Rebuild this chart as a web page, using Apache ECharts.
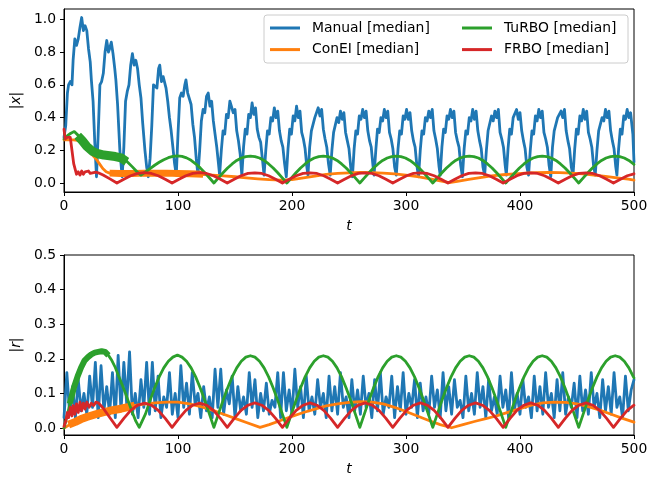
<!DOCTYPE html>
<html>
<head>
<meta charset="utf-8">
<script src="https://cdn.jsdelivr.net/npm/echarts@6/dist/echarts.min.js"></script>
<style>
  html, body { margin: 0; padding: 0; background: #fff; }
  #main { width: 663px; height: 477px; }
</style>
</head>
<body>
<div id="main"></div>
<script>
// ---- data ----
var xTicks = [0, 100, 200, 300, 400, 500];
var yTicksTop = [0, 0.2, 0.4, 0.6, 0.8, 1.0];
var yTicksBottom = [0, 0.1, 0.2, 0.3, 0.4, 0.5];

// Manual, |x| : [t, value]
var manualX = [
  [0,0.28],[1.5,0.35],[3,0.55],[4,0.6],[5.5,0.62],[7,0.6],[8,0.75],[9.5,0.88],[11,0.84],[12.5,0.88],[14,0.95],[15.5,1.01],[17,0.93],[18.5,0.96],[20,0.93],[21.5,0.82],[23,0.74],[24,0.63],[25.5,0.5],[27,0.25],[28.5,0.04],
  [30,0.3],[31.5,0.6],[33,0.62],[34.5,0.67],[36,0.8],[37.5,0.87],[39,0.8],[40,0.82],[41.5,0.86],[43,0.79],[44.5,0.7],[45.5,0.63],[47,0.48],[49,0.2],[51,0.04],
  [52.5,0.22],[54,0.5],[55.5,0.56],[57,0.6],[58.5,0.72],[60,0.79],[61.5,0.72],[63,0.75],[64.5,0.7],[66,0.6],[67.5,0.52],[69,0.37],[71,0.2],[72.5,0.1],[74,0.04],
  [75.5,0.15],[77,0.35],[78.5,0.6],[80,0.61],[81.5,0.58],[83,0.7],[84,0.72],[85.5,0.62],[87,0.65],[88,0.66],[89.5,0.58],[91,0.5],[92.5,0.4],[94,0.32],[95.5,0.22],[97,0.12],[98.5,0.05],
  [100,0.3],[101.5,0.52],[103,0.55],[104.5,0.53],[106,0.6],[107,0.63],[108.5,0.55],[110,0.56],[111.5,0.48],[113,0.36],[114.5,0.28],[116,0.15],[117.5,0.05],
  [119,0.2],[120.5,0.38],[122,0.45],[123.5,0.43],[125,0.53],[126.5,0.55],[128,0.47],[129.5,0.5],[131,0.38],[132.5,0.3],[134,0.22],[135.5,0.12],[136.5,0.05],
  [138,0.2],[139.5,0.32],[141,0.3],[142.5,0.42],[144,0.4],[145.5,0.5],[147,0.51],[148.5,0.43],[150,0.45],[151.5,0.32],[153,0.26],[154.5,0.18],[156,0.05],
  [157.5,0.22],[159,0.33],[160.5,0.3],[162,0.42],[163.5,0.4],[165,0.49],[166.5,0.42],[168,0.46],[169.5,0.33],[171,0.28],[172.5,0.25],[174,0.15],[175.5,0.05],
  [177,0.2],[178.5,0.32],[180,0.3],[181.5,0.4],[183,0.38],[184.5,0.46],[186,0.4],[187.5,0.44],[189,0.32],[190.5,0.26],[192,0.22],[193.5,0.12],[195,0.04],
  [196.5,0.21],[198,0.33],[199.5,0.3],[201,0.41],[202.5,0.38],[204,0.47],[205.5,0.4],[207,0.44],[208.5,0.31],[210,0.27],[211.5,0.21],[213,0.1],[214,0.05],
  [215.5,0.22],[217,0.32],[218.5,0.31],[220,0.4],[221.5,0.39],[223,0.46],[224.5,0.41],[226,0.45],[227.5,0.33],[229,0.27],[230.5,0.22],[232,0.12],[233.5,0.05],
  [235,0.2],[236.5,0.31],[238,0.3],[239.5,0.4],[241,0.37],[242.5,0.44],[244,0.39],[245.5,0.43],[247,0.31],[248.5,0.26],[250,0.21],[251.5,0.1],[253,0.04],
  [254.5,0.21],[256,0.32],[257.5,0.3],[259,0.41],[260.5,0.39],[262,0.45],[263.5,0.4],[265,0.44],[266.5,0.32],[268,0.26],[269.5,0.22],[271,0.11],[272,0.05],
  [273.5,0.2],[275,0.33],[276.5,0.31],[278,0.4],[279.5,0.38],[281,0.45],[282.5,0.4],[284,0.44],[285.5,0.31],[287,0.27],[288.5,0.21],[290,0.1],[291.5,0.05],
  [293,0.21],[294.5,0.32],[296,0.3],[297.5,0.41],[299,0.39],[300.5,0.45],[302,0.39],[303.5,0.43],[305,0.32],[306.5,0.26],[308,0.22],[309.5,0.11],[311,0.04],
  [312.5,0.2],[314,0.32],[315.5,0.3],[317,0.4],[318.5,0.38],[320,0.44],[321.5,0.4],[323,0.45],[324.5,0.32],[326,0.27],[327.5,0.21],[329,0.1],[330,0.05],
  [331.5,0.22],[333,0.33],[334.5,0.31],[336,0.41],[337.5,0.39],[339,0.45],[340.5,0.4],[342,0.44],[343.5,0.31],[345,0.26],[346.5,0.22],[348,0.11],[349.5,0.04],
  [351,0.21],[352.5,0.32],[354,0.3],[355.5,0.4],[357,0.38],[358.5,0.45],[360,0.39],[361.5,0.44],[363,0.32],[364.5,0.26],[366,0.21],[367.5,0.1],[369,0.05],
  [370.5,0.2],[372,0.32],[373.5,0.31],[375,0.41],[376.5,0.38],[378,0.44],[379.5,0.4],[381,0.45],[382.5,0.31],[384,0.27],[385.5,0.22],[387,0.11],[388,0.05],
  [389.5,0.21],[391,0.33],[392.5,0.3],[394,0.4],[395.5,0.39],[397,0.45],[398.5,0.39],[400,0.43],[401.5,0.32],[403,0.26],[404.5,0.21],[406,0.1],[407.5,0.05],
  [409,0.2],[410.5,0.32],[412,0.3],[413.5,0.41],[415,0.38],[416.5,0.45],[418,0.4],[419.5,0.44],[421,0.31],[422.5,0.27],[424,0.22],[425.5,0.11],[427,0.04],
  [428.5,0.22],[430,0.32],[431.5,0.31],[433,0.4],[434.5,0.39],[436,0.44],[437.5,0.4],[439,0.45],[440.5,0.32],[442,0.26],[443.5,0.21],[445,0.1],[446.5,0.05],
  [448,0.21],[449.5,0.33],[451,0.3],[452.5,0.41],[454,0.38],[455.5,0.45],[457,0.39],[458.5,0.44],[460,0.31],[461.5,0.27],[463,0.22],[464.5,0.11],[466,0.05],
  [467.5,0.2],[469,0.32],[470.5,0.31],[472,0.4],[473.5,0.38],[475,0.45],[476.5,0.4],[478,0.44],[479.5,0.32],[481,0.26],[482.5,0.21],[484,0.1],[485,0.05],
  [486.5,0.21],[488,0.33],[489.5,0.3],[491,0.41],[492.5,0.39],[494,0.45],[495.5,0.4],[497,0.43],[499,0.3],[500,0.13]
];

// Manual, |r| : one value every 2.5 time units, t = 0 .. 500
var manualRStep = 2.5;
var manualR = [
  0.03,0.16,0.04,0.12,0.03,0.14,0.05,0.1,0.04,0.15,
  0.06,0.19,0.03,0.18,0.05,0.12,0.04,0.16,0.03,0.21,
  0.05,0.19,0.07,0.22,0.04,0.1,0.03,0.14,0.06,0.19,
  0.04,0.19,0.05,0.15,0.03,0.09,0.06,0.16,0.04,0.1,
  0.03,0.18,0.06,0.13,0.04,0.16,0.07,0.1,0.03,0.12,
  0.05,0.09,0.03,0.17,0.06,0.17,0.04,0.11,0.07,0.15,
  0.03,0.12,0.05,0.09,0.04,0.16,0.06,0.14,0.03,0.1,
  0.05,0.13,0.04,0.08,0.06,0.16,0.03,0.16,0.05,0.11,
  0.04,0.17,0.06,0.12,0.03,0.15,0.05,0.09,0.04,0.14,
  0.06,0.1,0.03,0.15,0.05,0.12,0.04,0.16,0.06,0.09,
  0.03,0.14,0.05,0.11,0.04,0.15,0.06,0.1,0.03,0.14,
  0.05,0.16,0.04,0.09,0.06,0.15,0.03,0.12,0.05,0.16,
  0.04,0.1,0.06,0.14,0.03,0.13,0.05,0.09,0.04,0.15,
  0.06,0.11,0.03,0.16,0.05,0.12,0.04,0.14,0.06,0.08,
  0.03,0.15,0.05,0.1,0.04,0.16,0.06,0.12,0.03,0.14,
  0.05,0.09,0.04,0.15,0.06,0.11,0.03,0.16,0.05,0.1,
  0.04,0.14,0.06,0.09,0.03,0.15,0.05,0.12,0.04,0.16,
  0.06,0.1,0.03,0.14,0.05,0.16,0.04,0.09,0.06,0.13,
  0.03,0.15,0.05,0.11,0.04,0.16,0.06,0.1,0.03,0.14,
  0.05,0.12,0.04,0.16,0.06,0.09,0.03,0.15,0.05,0.11,
  0.14
];

// ConEI
var conX = [
  [0,0.265],[4,0.265],[8,0.265],[12,0.262],[16,0.25],[20,0.22],[24,0.18],[28,0.15],[31,0.12],[34,0.09],[37,0.07],[40,0.062],
  [50,0.06],[60,0.06],[70,0.062],[80,0.062],[90,0.062],[100,0.06],[110,0.058],[120,0.055],[130,0.05],[140,0.045],[150,0.04],
  [160,0.033],[170,0.027],[180,0.022],[190,0.019],[200,0.023],[210,0.033],[220,0.044],[230,0.054],[240,0.06],[250,0.064],
  [260,0.066],[270,0.065],[280,0.062],[290,0.057],[300,0.05],[310,0.04],[320,0.028],[330,0.015],[338,0.004],[345,0.012],
  [355,0.024],[365,0.035],[375,0.045],[385,0.052],[395,0.058],[405,0.062],[415,0.065],[425,0.066],[435,0.065],[445,0.062],
  [455,0.057],[465,0.05],[475,0.042],[485,0.033],[495,0.025],[500,0.02]
];
var conXBand = [[40,0.062],[50,0.06],[60,0.06],[70,0.062],[80,0.062],[90,0.062],[100,0.06],[110,0.058],[122,0.055]];
var conR = [
  [0,0],[5,0.01],[10,0.018],[15,0.026],[20,0.032],[25,0.037],[30,0.042],[35,0.046],[40,0.05],[45,0.053],[50,0.056],
  [55,0.06],[60,0.064],[65,0.067],[70,0.069],[80,0.073],[90,0.075],[100,0.075],[110,0.07],[120,0.062],[130,0.052],
  [140,0.04],[150,0.028],[160,0.016],[172,0.002],[180,0.01],[190,0.022],[200,0.034],[210,0.045],[220,0.055],[230,0.064],
  [240,0.07],[250,0.074],[260,0.076],[270,0.075],[280,0.07],[290,0.06],[300,0.048],[310,0.035],[320,0.022],[330,0.01],
  [340,0.001],[350,0.01],[360,0.019],[370,0.027],[380,0.036],[390,0.046],[400,0.056],[410,0.066],[420,0.073],[430,0.075],
  [440,0.074],[450,0.07],[460,0.062],[470,0.052],[480,0.04],[490,0.028],[500,0.017]
];
var conRBand = [[4,0.01],[10,0.018],[15,0.026],[20,0.032],[25,0.037],[30,0.042],[35,0.046],[40,0.05],[45,0.053],[50,0.056],[55,0.06],[62,0.065]];

// TuRBO
var turboXStart = [
  [0,0.27],[3,0.29],[6,0.305],[9,0.315],[12,0.295],[15,0.265],[20,0.225],[25,0.195],[30,0.18],[35,0.172],[40,0.168],
  [45,0.163],[50,0.155],[55,0.135],[60,0.1],[64,0.07],[67.5,0.05]
];
var turboXBand = [[12,0.29],[16,0.26],[20,0.225],[25,0.195],[30,0.18],[35,0.172],[40,0.168],[45,0.163],[50,0.155],[55,0.132]];
var turboRStart = [
  [0,0],[3,0.04],[6,0.08],[9,0.12],[12,0.15],[15,0.175],[18,0.195],[21,0.205],[24,0.213],[27,0.218],[30,0.22],[33,0.222],
  [36,0.22],[39,0.21],[42,0.195],[45,0.175],[48,0.15],[51,0.125],[54,0.1],[57,0.072],[60,0.045],[63,0.02],[66,0.002]
];
var turboRBand = [[5,0.07],[9,0.12],[12,0.15],[15,0.175],[18,0.195],[21,0.205],[24,0.213],[27,0.218],[30,0.22],[33,0.222],[36,0.22],[39,0.21]];
var turboT = [
  71.5,75.5,79.5,83.5,87.5,91.5,95.5,99.5,103.5,107.5,111.5,115.5,119.5,123.5,127.5,131.5,
  135.5,139.5,143.5,147.5,151.5,155.5,159.5,163.5,167.5,171.5,175.5,179.5,183.5,187.5,191.5,195.5,
  199.5,203.5,207.5,211.5,215.5,219.5,223.5,227.5,231.5,235.5,239.5,243.5,247.5,251.5,255.5,259.5,
  263.5,267.5,271.5,275.5,279.5,283.5,287.5,291.5,295.5,299.5,303.5,307.5,311.5,315.5,319.5,323.5,
  327.5,331.5,335.5,339.5,343.5,347.5,351.5,355.5,359.5,363.5,367.5,371.5,375.5,379.5,383.5,387.5,
  391.5,395.5,399.5,403.5,407.5,411.5,415.5,419.5,423.5,427.5,431.5,435.5,439.5,443.5,447.5,451.5,
  455.5,459.5,463.5,467.5,471.5,475.5,479.5,483.5,487.5,491.5,495.5,499.5,500
];
var turboX = [
  0.07,0.09,0.11,0.128,0.144,0.156,0.164,0.167,0.164,0.155,0.14,0.119,0.094,0.065,0.034,0.002,
  0.033,0.064,0.093,0.118,0.139,0.154,0.163,0.166,0.163,0.154,0.139,0.118,0.093,0.064,0.033,0.002,
  0.033,0.064,0.093,0.118,0.139,0.154,0.163,0.166,0.163,0.154,0.139,0.118,0.093,0.064,0.033,0.002,
  0.033,0.064,0.093,0.118,0.139,0.154,0.163,0.166,0.163,0.154,0.139,0.118,0.093,0.064,0.033,0.002,
  0.033,0.064,0.093,0.118,0.139,0.154,0.163,0.166,0.163,0.154,0.139,0.118,0.093,0.064,0.033,0.002,
  0.033,0.064,0.093,0.118,0.139,0.154,0.163,0.166,0.163,0.154,0.139,0.118,0.093,0.064,0.033,0.002,
  0.033,0.064,0.093,0.118,0.139,0.154,0.163,0.166,0.163,0.154,0.139,0.118,0.115
];
var turboR = [
  0.041,0.08,0.116,0.148,0.174,0.193,0.205,0.211,0.205,0.193,0.174,0.148,0.116,0.08,0.041,0.002,
  0.041,0.08,0.116,0.148,0.174,0.193,0.205,0.209,0.205,0.193,0.174,0.148,0.116,0.08,0.041,0.002,
  0.041,0.08,0.116,0.148,0.174,0.193,0.205,0.209,0.205,0.193,0.174,0.148,0.116,0.08,0.041,0.002,
  0.041,0.08,0.116,0.148,0.174,0.193,0.205,0.209,0.205,0.193,0.174,0.148,0.116,0.08,0.041,0.002,
  0.041,0.08,0.116,0.148,0.174,0.193,0.205,0.209,0.205,0.193,0.174,0.148,0.116,0.08,0.041,0.002,
  0.041,0.08,0.116,0.148,0.174,0.193,0.205,0.209,0.205,0.193,0.174,0.148,0.116,0.08,0.041,0.002,
  0.041,0.08,0.116,0.148,0.174,0.193,0.205,0.209,0.205,0.193,0.174,0.148,0.145
];

// FRBO
var frboXStart = [
  [0,0.33],[1,0.27],[3,0.28],[5.5,0.28],[7,0.2],[8.5,0.12],[10,0.08],[11,0.055],[12.5,0.07],[14,0.05],[15.5,0.075],
  [17,0.055],[18.5,0.07],[20,0.058],[21.5,0.075],[23,0.06],[24.5,0.07],[26,0.065],[28,0.068],[30,0.064],[34.3,0.05],
  [40.3,0.027],[46.4,0.002]
];
var frboRStart = [
  [0,0.005],[1.5,0.02],[3,0.045],[4,0.03],[5.5,0.06],[7,0.035],[8,0.065],[9.5,0.04],[11,0.07],[12.5,0.045],[14,0.075],
  [15.5,0.05],[17,0.072],[18.5,0.055],[20,0.075],[22,0.06],[24,0.072],[26,0.065],[28,0.075],[30,0.073],[34.3,0.058],
  [40.3,0.03],[46.4,0.002]
];
var frboT = [
  52.5,58.5,64.6,70.6,76.7,82.7,88.8,94.8,
  100.9,106.9,113,119,125.1,131.1,137.2,143.2,
  149.3,155.3,161.4,167.4,173.5,179.5,185.6,191.6,
  197.7,203.7,209.8,215.8,221.9,227.9,234,240,
  246.1,252.1,258.2,264.2,270.3,276.3,282.4,288.4,
  294.5,300.5,306.6,312.6,318.7,324.7,330.8,336.8,
  342.9,348.9,355,361,367.1,373.1,379.2,385.2,
  391.3,397.3,403.4,409.4,415.5,421.5,427.6,433.6,
  439.7,445.7,451.8,457.8,463.9,469.9,476,482,
  488.1,494.1,500
];
var frboX = [
  0.025,0.046,0.06,0.065,0.06,0.046,0.025,0.002,
  0.025,0.046,0.06,0.065,0.06,0.046,0.025,0.002,
  0.025,0.046,0.06,0.064,0.06,0.046,0.025,0.002,
  0.025,0.046,0.06,0.064,0.06,0.046,0.025,0.002,
  0.025,0.046,0.06,0.064,0.06,0.046,0.025,0.002,
  0.025,0.046,0.06,0.064,0.06,0.046,0.025,0.002,
  0.025,0.046,0.06,0.064,0.06,0.046,0.025,0.002,
  0.025,0.046,0.06,0.064,0.06,0.046,0.025,0.002,
  0.025,0.046,0.06,0.064,0.06,0.046,0.025,0.002,
  0.025,0.046,0.058
];
var frboR = [
  0.028,0.051,0.066,0.072,0.066,0.051,0.028,0.002,
  0.028,0.051,0.066,0.072,0.066,0.051,0.028,0.002,
  0.028,0.051,0.066,0.073,0.066,0.051,0.028,0.002,
  0.028,0.051,0.066,0.073,0.066,0.051,0.028,0.002,
  0.028,0.051,0.066,0.073,0.066,0.051,0.028,0.002,
  0.028,0.051,0.066,0.073,0.066,0.051,0.028,0.002,
  0.028,0.051,0.066,0.073,0.066,0.051,0.028,0.002,
  0.028,0.051,0.066,0.073,0.066,0.051,0.028,0.002,
  0.028,0.051,0.066,0.073,0.066,0.051,0.028,0.002,
  0.028,0.051,0.066
];

// ---- chart ----
var BLUE = '#1f77b4', ORANGE = '#ff7f0e', GREEN = '#2ca02c', RED = '#d62728';
var FONT = 'DejaVu Sans';
var FS = 13.9;

function pairs(ts, vs) {
  return ts.map(function (t, i) { return [t, vs[i]]; });
}
var manualRData = manualR.map(function (v, i) { return [i * manualRStep, v]; });

function xAxisFor(gridIndex) {
  return {
    type: 'value', gridIndex: gridIndex, min: 0, max: 500, interval: 100,
    name: 't', nameLocation: 'middle', nameGap: 27,
    nameTextStyle: { fontFamily: FONT, fontSize: FS, fontStyle: 'italic', color: '#000' },
    axisLine: { show: true, onZero: false, lineStyle: { color: '#000', width: 1 } },
    axisTick: { show: true, length: 4, lineStyle: { color: '#000', width: 1 } },
    axisLabel: { fontFamily: FONT, fontSize: FS, color: '#000', margin: 7 },
    splitLine: { show: false }
  };
}
function yAxisFor(gridIndex, min, max, ticks, label) {
  return {
    type: 'value', gridIndex: gridIndex, min: min, max: max,
    name: '|{i|' + label + '}|', nameLocation: 'middle', nameRotate: 90, nameGap: 38,
    nameTextStyle: { fontFamily: FONT, fontSize: FS, color: '#000',
      rich: { i: { fontFamily: FONT, fontSize: FS, fontStyle: 'italic', color: '#000' } } },
    axisLine: { show: true, onZero: false, lineStyle: { color: '#000', width: 1 } },
    axisTick: { show: true, length: 4, customValues: ticks, lineStyle: { color: '#000', width: 1 } },
    axisLabel: { fontFamily: FONT, fontSize: FS, color: '#000', margin: 8, customValues: ticks,
      formatter: function (v) { return v.toFixed(1); } },
    splitLine: { show: false }
  };
}
function line(name, color, data, xi, width) {
  return {
    name: name, type: 'line', xAxisIndex: xi, yAxisIndex: xi, data: data,
    symbol: 'none', silent: true,
    lineStyle: { color: color, width: width || 2.8, cap: width ? 'butt' : 'round', join: 'round' },
    itemStyle: { color: color }
  };
}
function legendFor(names, left) {
  return {
    data: names.map(function (n) { return { name: n, icon: 'rect' }; }),
    orient: 'vertical', left: left, top: 20, z: 6,
    itemWidth: 30, itemHeight: 3, itemGap: 5.6, padding: 0,
    textStyle: { fontFamily: FONT, fontSize: FS, color: '#000', lineHeight: 16, padding: [0, 0, 0, 7] }
  };
}

var chart = echarts.init(document.getElementById('main'));
chart.setOption({
  animation: false,
  backgroundColor: '#fff',
  grid: [
    { left: 64, top: 9, width: 570, height: 183, show: true, borderColor: '#000', borderWidth: 1 },
    { left: 64, top: 255, width: 570, height: 181, show: true, borderColor: '#000', borderWidth: 1 }
  ],
  xAxis: [xAxisFor(0), xAxisFor(1)],
  yAxis: [
    yAxisFor(0, -0.053, 1.062, yTicksTop, 'x'),
    yAxisFor(1, -0.02, 0.5, yTicksBottom, 'r')
  ],
  graphic: [{
    type: 'rect', z: 5,
    shape: { x: 264, y: 15, width: 364, height: 48, r: 3 },
    style: { fill: 'rgba(255,255,255,0.8)', stroke: '#cccccc', lineWidth: 1 }
  }],
  legend: [
    legendFor(['Manual [median]', 'ConEI [median]'], 270),
    legendFor(['TuRBO [median]', 'FRBO [median]'], 462)
  ],
  series: [
    line('Manual [median]', BLUE, manualX, 0),
    line('ConEI [median]', ORANGE, conX, 0),
    line('', ORANGE, conXBand, 0, 7),
    line('TuRBO [median]', GREEN, turboXStart.concat(pairs(turboT, turboX)), 0),
    line('', GREEN, turboXBand, 0, 9),
    line('FRBO [median]', RED, frboXStart.concat(pairs(frboT, frboX)), 0),

    line('Manual [median]', BLUE, manualRData, 1),
    line('ConEI [median]', ORANGE, conR, 1),
    line('', ORANGE, conRBand, 1, 8),
    line('TuRBO [median]', GREEN, turboRStart.concat(pairs(turboT, turboR)), 1),
    line('', GREEN, turboRBand, 1, 6),
    line('FRBO [median]', RED, frboRStart.concat(pairs(frboT, frboR)), 1)
  ]
});
</script>
</body>
</html>
